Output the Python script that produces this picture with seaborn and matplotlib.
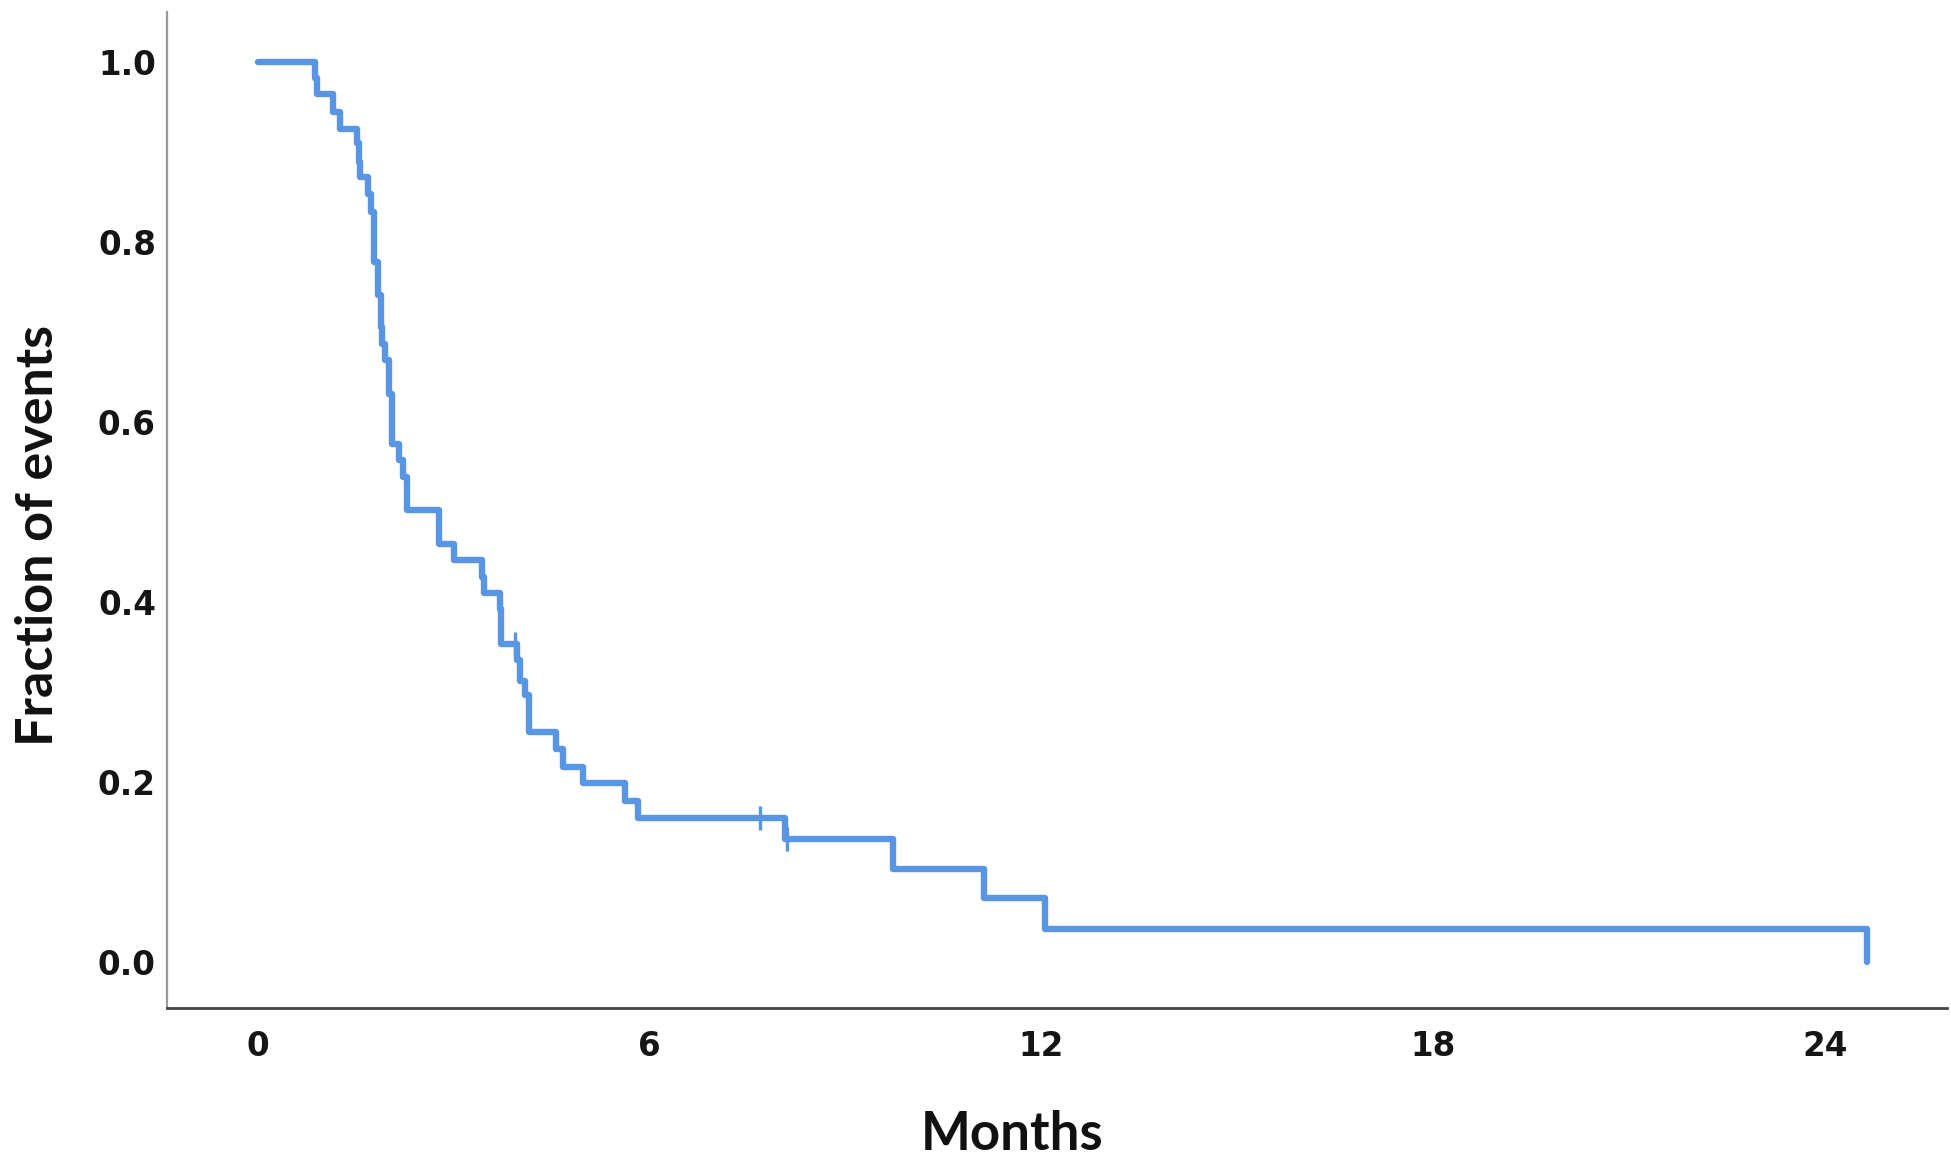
import matplotlib
matplotlib.use("Agg")
import matplotlib.pyplot as plt
import seaborn as sns
import pandas as pd

# step curve (months, fraction after the event)
event_months = [0, 0.88, 0.90, 1.15, 1.26, 1.52, 1.55, 1.57, 1.69, 1.73,
                1.78, 1.84, 1.88, 1.91, 1.945, 2.01, 2.05, 2.06, 2.17, 2.23,
                2.28, 2.78, 3.01, 3.43, 3.46, 3.71, 3.73, 3.97, 4.02, 4.09,
                4.15, 4.57, 4.67, 4.98, 5.63, 5.83, 8.07, 9.73, 11.12, 12.05,
                24.65]
event_fraction = [1.0, 0.983, 0.965, 0.945, 0.926, 0.910, 0.889, 0.873, 0.854, 0.834,
                  0.778, 0.741, 0.706, 0.687, 0.669, 0.632, 0.613, 0.576, 0.558, 0.539,
                  0.503, 0.465, 0.447, 0.428, 0.410, 0.392, 0.354, 0.336, 0.313, 0.297,
                  0.256, 0.237, 0.217, 0.199, 0.179, 0.160, 0.137, 0.104, 0.071, 0.037,
                  0.0]

# censored observations
censor_months = [3.94, 7.69, 8.10]
censor_fraction = [0.354, 0.160, 0.137]

x_ticks = [0, 6, 12, 18, 24]
y_ticks = [0.0, 0.2, 0.4, 0.6, 0.8, 1.0]

LINE_COLOR = "#5895e2"

sns.set_style("white")
plt.rcParams["font.family"] = ["DejaVu Sans"]

curve = pd.DataFrame({"months": event_months, "fraction": event_fraction})
censored = pd.DataFrame({"months": censor_months, "fraction": censor_fraction})

fig = plt.figure(figsize=(19.51, 11.59), dpi=100)
ax = fig.add_axes([0.0856, 0.1303, 0.9124, 0.8593])

sns.lineplot(data=curve, x="months", y="fraction", estimator=None, sort=False,
             drawstyle="steps-post", color=LINE_COLOR, linewidth=4.6, ax=ax)
sns.scatterplot(data=censored, x="months", y="fraction", marker="|", s=300,
                linewidth=2.4, color=LINE_COLOR, ax=ax, zorder=3)

ax.set_xlim(-1.39, 25.87)
ax.set_ylim(-0.051, 1.056)
ax.set_xticks(x_ticks)
ax.set_xticklabels([str(t) for t in x_ticks])
ax.set_yticks(y_ticks)
ax.set_yticklabels([f"{t:.1f}" for t in y_ticks])
ax.tick_params(axis="both", length=0, labelsize=23.5)
ax.tick_params(axis="x", pad=16)
ax.tick_params(axis="y", pad=8)
for lab in ax.get_xticklabels() + ax.get_yticklabels():
    lab.set_fontweight("bold")
    lab.set_color("#151515")

for side in ["top", "right"]:
    ax.spines[side].set_visible(False)
ax.spines["left"].set_color("#9a9a9a")
ax.spines["left"].set_linewidth(1.6)
ax.spines["bottom"].set_color("#444444")
ax.spines["bottom"].set_linewidth(2.0)

ax.set_xlabel("Months", fontsize=38, fontweight="bold", family="Lato", color="#111111")
ax.set_ylabel("Fraction of events", fontsize=37.5, fontweight="bold", family="Lato",
              color="#111111")
ax.xaxis.set_label_coords(0.475, -0.102)
ax.yaxis.set_label_coords(-0.059, 0.474)

fig.savefig("out.png", dpi=100)
